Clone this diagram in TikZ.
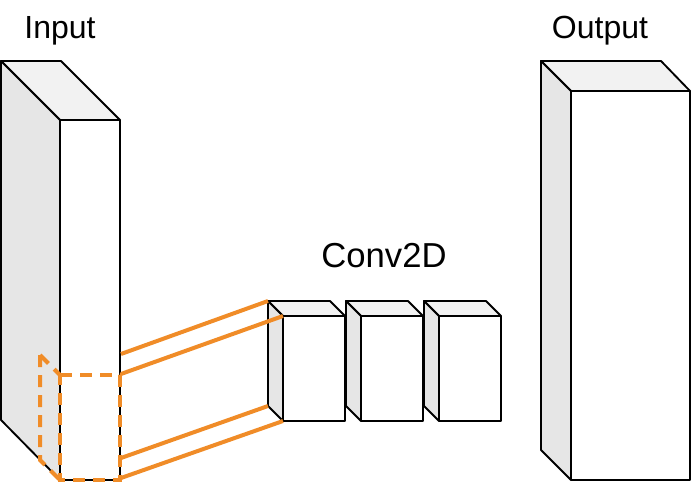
\documentclass[tikz,border=0pt]{standalone}
\usepackage{fontspec}
\setmainfont{Liberation Sans}
\usepackage{xcolor}
\definecolor{kernel}{RGB}{240,140,40}
\definecolor{topface}{RGB}{242,242,242}
\definecolor{sideface}{RGB}{230,230,230}
\tikzset{
  face/.style={draw=black,line width=1.4pt,line join=round},
  field/.style={draw=kernel,line width=3pt},
  label/.style={inner sep=0.75pt,font=\fontsize{24}{28}\selectfont}
}
\begin{document}
\begin{tikzpicture}[x=0.75pt,y=0.75pt,yscale=-1,xscale=1]
\useasboundingbox (0,0) rectangle (692,488);

% input block
\draw [face,fill=topface]  (1,61) -- (61,61) -- (120,120) -- (60,120) -- cycle ;
\draw [face,fill=sideface] (1,61) -- (60,120) -- (60,480) -- (1,420) -- cycle ;
\draw [face,fill=white]    (60,120) -- (120,120) -- (120,480) -- (60,480) -- cycle ;

% conv2d blocks
\foreach \xf/\nm in {283/a,361/b,439/c}{
  \draw [face,fill=topface]  (\xf-15,301) -- (\xf+47,301) -- (\xf+62,316) -- (\xf,316) -- cycle ;
  \draw [face,fill=sideface] (\xf-15,301) -- (\xf,316) -- (\xf,421) -- (\xf-15,406) -- cycle ;
  \draw [face,fill=white]    (\xf,316) -- (\xf+62,316) -- (\xf+62,421) -- (\xf,421) -- cycle ;
  \coordinate (conv\nm-bt) at (\xf-15,301);
  \coordinate (conv\nm-ft) at (\xf,316);
  \coordinate (conv\nm-bb) at (\xf-15,406);
  \coordinate (conv\nm-fb) at (\xf,421);
}

% output block
\draw [face,fill=topface]  (541,61) -- (661,61) -- (690,91) -- (571,91) -- cycle ;
\draw [face,fill=sideface] (541,61) -- (571,91) -- (571,480) -- (541,450) -- cycle ;
\draw [face,fill=white]    (571,91) -- (690,91) -- (690,480) -- (571,480) -- cycle ;

% kernel window on the input
\draw [field,dash pattern=on 9pt off 6pt] (60,375) -- (120,375) -- (120,480) -- (60,480) -- cycle ;
\draw [field,dash pattern=on 9pt off 6pt] (40,355) -- (60,375) ;
\draw [field,dash pattern=on 9pt off 6pt] (40,355) -- (40,460) -- (60,480) ;

\coordinate (in-a) at (121,354);
\coordinate (in-b) at (121,374);
\coordinate (in-c) at (121,458);
\coordinate (in-d) at (121,478);
\draw [field] (in-a) -- (conva-bt) ;
\draw [field] (in-b) -- (conva-ft) ;
\draw [field] (in-c) -- (conva-bb) ;
\draw [field] (in-d) -- (conva-fb) ;

\node [label] (input)  at (60,31)  {Input};
\node [label,font=\fontsize{26}{30}\selectfont] (conv) at (384,256) {Conv2D};
\node [label] (output) at (600,31) {Output};

\end{tikzpicture}
\end{document}
